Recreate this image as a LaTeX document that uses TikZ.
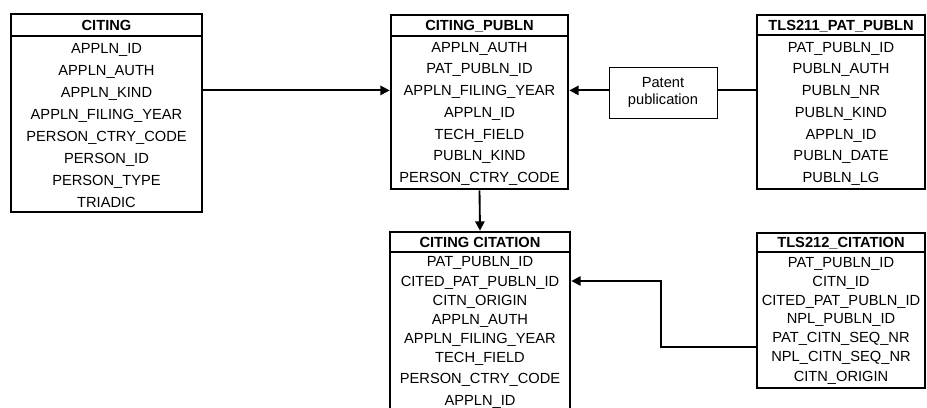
\documentclass[tikz,border=0pt]{standalone}
\usepackage{fontspec}
\setmainfont{Liberation Sans}
\usetikzlibrary{arrows.meta}

\begin{document}
\begin{tikzpicture}[x=0.75pt, y=-0.75pt,
    font=\fontsize{11pt}{13pt}\selectfont,
    table/.style ={rectangle, draw, line width=2pt, inner sep=0pt},
    tablehead/.style ={rectangle, draw, line width=1.8pt, inner sep=0pt,
        font=\fontsize{11pt}{13pt}\selectfont\bfseries, text height=7.9pt, text depth=0pt},
    field/.style ={inner sep=0pt, text height=7.9pt, text depth=0pt},
    notebox/.style ={rectangle, draw, thin, inner sep=0pt, align=center,
        minimum width=81pt, minimum height=38pt},
    link/.style ={line width=1.4pt},
    arrowlink/.style ={line width=1.4pt, -{Triangle[length=7pt,width=7pt]}}]
   \useasboundingbox (0,0) rectangle (927,407);

   % CITING
   \node[table, minimum width=143.25pt, minimum height=148.5pt] (citing) at (106.5,113) {};
   \node[tablehead, minimum width=143.25pt, minimum height=16.5pt] (citing-h) at (106.5,25) {CITING};
   \node[field] (citing-1) at (106.5,48)    {APPLN\_ID};
   \node[field] (citing-2) at (106.5,70)    {APPLN\_AUTH};
   \node[field] (citing-3) at (106.5,92)    {APPLN\_KIND};
   \node[field] (citing-4) at (106.5,114)   {APPLN\_FILING\_YEAR};
   \node[field] (citing-5) at (106.5,136)   {PERSON\_CTRY\_CODE};
   \node[field] (citing-6) at (106.5,158)   {PERSON\_ID};
   \node[field] (citing-7) at (106.5,180)   {PERSON\_TYPE};
   \node[field] (citing-8) at (106.5,202)   {TRIADIC};

   % CITING_PUBLN
   \node[table, minimum width=132.75pt, minimum height=130.5pt] (cpubln) at (479.5,102) {};
   \node[tablehead, minimum width=132.75pt, minimum height=15.75pt] (cpubln-h) at (479.5,25.5) {CITING\_PUBLN};
   \node[field] (cpubln-1) at (479.5,47)    {APPLN\_AUTH};
   \node[field] (cpubln-2) at (479.5,68.7)  {PAT\_PUBLN\_ID};
   \node[field] (cpubln-3) at (479.5,90.4)  {APPLN\_FILING\_YEAR};
   \node[field] (cpubln-4) at (479.5,112.1) {APPLN\_ID};
   \node[field] (cpubln-5) at (479.5,133.8) {TECH\_FIELD};
   \node[field] (cpubln-6) at (479.5,155.5) {PUBLN\_KIND};
   \node[field] (cpubln-7) at (479.5,177.2) {PERSON\_CTRY\_CODE};

   % TLS211_PAT_PUBLN
   \node[table, minimum width=126pt, minimum height=130.5pt] (pubtab) at (841,102) {};
   \node[tablehead, minimum width=126pt, minimum height=15pt] (pubtab-h) at (841,25) {TLS211\_PAT\_PUBLN};
   \node[field] (pubtab-1) at (841,47)    {PAT\_PUBLN\_ID};
   \node[field] (pubtab-2) at (841,68.7)  {PUBLN\_AUTH};
   \node[field] (pubtab-3) at (841,90.4)  {PUBLN\_NR};
   \node[field] (pubtab-4) at (841,112.1) {PUBLN\_KIND};
   \node[field] (pubtab-5) at (841,133.8) {APPLN\_ID};
   \node[field] (pubtab-6) at (841,155.5) {PUBLN\_DATE};
   \node[field] (pubtab-7) at (841,177.2) {PUBLN\_LG};

   % CITING CITATION
   \node[table, minimum width=135pt, minimum height=137.25pt] (ccit) at (480,323.5) {};
   \node[tablehead, minimum width=135pt, minimum height=15pt] (ccit-h) at (480,242) {CITING CITATION};
   \node[field] (ccit-1) at (480,261) {PAT\_PUBLN\_ID};
   \node[field] (ccit-2) at (480,281) {CITED\_PAT\_PUBLN\_ID};
   \node[field] (ccit-3) at (480,300) {CITN\_ORIGIN};
   \node[field] (ccit-4) at (480,319) {APPLN\_AUTH};
   \node[field] (ccit-5) at (480,338) {APPLN\_FILING\_YEAR};
   \node[field] (ccit-6) at (480,357) {TECH\_FIELD};
   \node[field] (ccit-7) at (480,378) {PERSON\_CTRY\_CODE};
   \node[field] (ccit-8) at (480,400) {APPLN\_ID};

   % TLS212_CITATION
   \node[table, minimum width=126pt, minimum height=116.25pt] (cittab) at (841,310.5) {};
   \node[tablehead, minimum width=126pt, minimum height=14.25pt] (cittab-h) at (841,242.5) {TLS212\_CITATION};
   \node[field] (cittab-1) at (841,262) {PAT\_PUBLN\_ID};
   \node[field] (cittab-2) at (841,281) {CITN\_ID};
   \node[field] (cittab-3) at (841,300) {CITED\_PAT\_PUBLN\_ID};
   \node[field] (cittab-4) at (841,318) {NPL\_PUBLN\_ID};
   \node[field] (cittab-5) at (841,337) {PAT\_CITN\_SEQ\_NR};
   \node[field] (cittab-6) at (841,356) {NPL\_CITN\_SEQ\_NR};
   \node[field] (cittab-7) at (841,376) {CITN\_ORIGIN};

   % patent publication
   \node[notebox] (patpub) at (663,92.5) {Patent\\publication};
   \coordinate (bend) at (661,347);

   \draw[arrowlink] (cpubln-3 -| citing.east) to (cpubln-3 -| cpubln.west);
   \draw[link] (cpubln-3 -| pubtab.west) to (cpubln-3 -| patpub.east);
   \draw[arrowlink] (cpubln-3 -| patpub.west) to (cpubln-3 -| cpubln.east);
   \draw[arrowlink] (cpubln.south) to (ccit.north);
   \draw[arrowlink] (bend -| cittab.west) -- (bend) |- (ccit-2 -| ccit.east);
 \end{tikzpicture}
\end{document}
